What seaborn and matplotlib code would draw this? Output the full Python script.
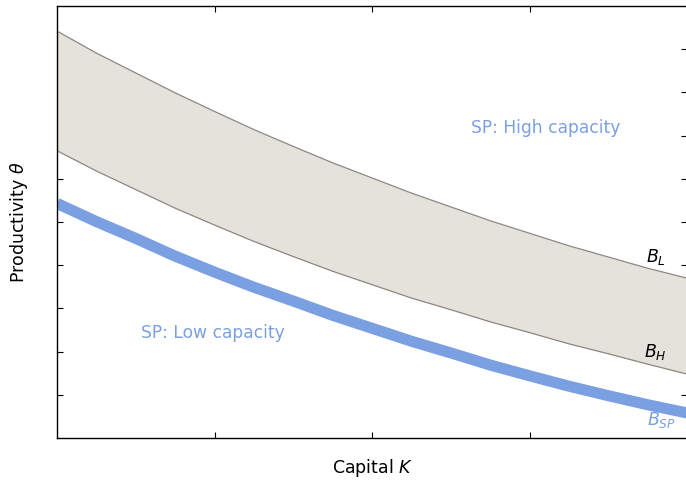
import matplotlib
matplotlib.use("Agg")
import matplotlib.pyplot as plt
import seaborn as sns
import pandas as pd

# capital grid and the three boundaries
capital = [0.0, 0.25, 0.5, 0.75, 1.0, 1.25, 1.5, 1.75, 2.0,
           2.25, 2.5, 2.75, 3.0, 3.25, 3.5, 3.75, 4.0]
b_low = [9.42, 8.91, 8.45, 7.99, 7.56, 7.14, 6.75, 6.37, 6.02,
         5.67, 5.35, 5.03, 4.74, 4.45, 4.19, 3.93, 3.70]
b_high = [6.65, 6.18, 5.75, 5.32, 4.93, 4.55, 4.20, 3.86, 3.55,
          3.24, 2.97, 2.69, 2.44, 2.18, 1.95, 1.71, 1.48]
b_sp = [5.43, 5.01, 4.62, 4.21, 3.84, 3.49, 3.17, 2.84, 2.54,
        2.24, 1.97, 1.69, 1.44, 1.20, 0.98, 0.77, 0.58]

x_ticks = [1, 2, 3]
y_ticks = [1, 2, 3, 4, 5, 6, 7, 8, 9]

df = pd.DataFrame({"K": capital, "B_L": b_low, "B_H": b_high, "B_SP": b_sp})

sns.set_style("ticks")
plt.rcParams["font.family"] = ["DejaVu Sans"]
plt.rcParams["mathtext.fontset"] = "dejavusans"
plt.rcParams["text.color"] = "black"
plt.rcParams["axes.labelcolor"] = "black"

band_grey = "#e5e2dc"
edge_grey = "#8c8782"
sp_blue = "#7ba0e1"

fig = plt.figure(figsize=(6.86, 4.83), dpi=100)
# right edge sits just past the figure border, as in the original
ax = fig.add_axes([57 / 686, 1 - 438 / 483, (687 - 57) / 686, (438 - 6) / 483])

ax.fill_between(df["K"], df["B_H"], df["B_L"], color=band_grey, linewidth=0)
sns.lineplot(data=df, x="K", y="B_L", ax=ax, color=edge_grey, linewidth=0.9)
sns.lineplot(data=df, x="K", y="B_H", ax=ax, color=edge_grey, linewidth=0.9)
sns.lineplot(data=df, x="K", y="B_SP", ax=ax, color=sp_blue, linewidth=8,
             solid_capstyle="butt")

ax.set_xlim(0, 4)
ax.set_ylim(0, 10)
ax.set_xticks(x_ticks)
ax.set_yticks(y_ticks)
ax.set_xticklabels([])
ax.set_yticklabels([])
ax.tick_params(direction="in", length=4.5, width=0.8, top=True, right=True,
               colors="black")
for s in ax.spines.values():
    s.set_visible(True)
    s.set_color("black")
    s.set_linewidth(1.0)

ax.set_xlabel("Capital $K$", fontsize=12.5, labelpad=10)
ax.set_ylabel("Productivity $\\theta$", fontsize=12.5, labelpad=16)

ax.text(3.10, 7.18, "SP: High capacity", color=sp_blue, fontsize=12.3,
        ha="center", va="center")
ax.text(0.99, 2.42, "SP: Low capacity", color=sp_blue, fontsize=12.3,
        ha="center", va="center")
ax.text(3.80, 4.18, "$B_L$", fontsize=12.5, ha="center", va="center")
ax.text(3.80, 1.99, "$B_H$", fontsize=12.5, ha="center", va="center")
ax.text(3.84, 0.42, "$B_{SP}$", color=sp_blue, fontsize=12.5,
        ha="center", va="center")

fig.savefig("out.png", dpi=100)
